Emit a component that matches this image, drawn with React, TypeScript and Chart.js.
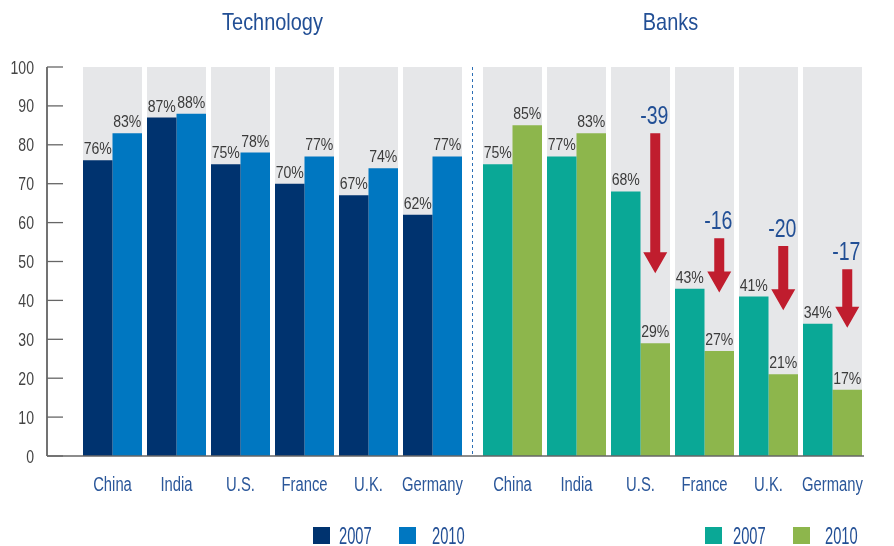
import React, { useEffect, useRef } from "react";
import { Chart, registerables } from "chart.js";

Chart.register(...registerables);

const countries = ["China", "India", "U.S.", "France", "U.K.", "Germany"];
const tech2007 = [76, 87, 75, 70, 67, 62];
const tech2010 = [83, 88, 78, 77, 74, 77];
const banks2007 = [75, 77, 68, 43, 41, 34];
const banks2010 = [85, 83, 29, 27, 21, 17];
const yTicks = [0, 10, 20, 30, 40, 50, 60, 70, 80, 90, 100];
// arrows on banks U.S., France, U.K., Germany (bank indices 2..5)
const arrowIdx = [2, 3, 4, 5];
const arrowTop = [83, 56, 54, 48];
const arrowTip = [47, 42, 37.5, 33];
const groupTitles = ["Technology", "Banks"];
const legendYears = ["2007", "2010"];

const GROUP_GAP = 0.25;
const FONT = '"Liberation Sans", Arial, sans-serif';

const C = {
  tech07: "#00336f",
  tech10: "#0077c1",
  bank07: "#0aa896",
  bank10: "#8db64c",
  bg: "#e6e7e9",
  red: "#c01d2e",
  blue: "#224f95",
  xlab: "#2b579a",
  grey: "#3b3b3b",
};

function drawText(ctx, text, x, y, size, scale, color, align) {
  ctx.save();
  ctx.font = `${size}px ${FONT}`;
  ctx.fillStyle = color;
  ctx.textBaseline = "alphabetic";
  ctx.textAlign = "left";
  const w = ctx.measureText(text).width * scale;
  const left = align === "center" ? x - w / 2 : align === "right" ? x - w : x;
  ctx.translate(left, y);
  ctx.scale(scale, 1);
  ctx.fillText(text, 0, 0);
  ctx.restore();
}

export default function App() {
  const ref = useRef(null);

  useEffect(() => {
    document.body.style.margin = "0";
    const n = countries.length;
    const pos = [];
    for (let i = 0; i < n; i++) pos.push(i);
    for (let i = 0; i < n; i++) pos.push(i + n + GROUP_GAP);
    const v07 = [...tech2007, ...banks2007];
    const v10 = [...tech2010, ...banks2010];
    const col07 = pos.map((_, i) => (i < n ? C.tech07 : C.bank07));
    const col10 = pos.map((_, i) => (i < n ? C.tech10 : C.bank10));
    const labels = [...countries, ...countries];

    const overlay = {
      id: "overlay",
      afterDatasetsDraw(chart) {
        const ctx = chart.ctx;
        const xs = chart.scales.x;
        const ys = chart.scales.y;
        const area = chart.chartArea;
        const y0 = ys.getPixelForValue(0);
        const y100 = ys.getPixelForValue(100);

        // y axis
        ctx.save();
        ctx.strokeStyle = "#444";
        ctx.lineWidth = 1.5;
        ctx.beginPath();
        ctx.moveTo(area.left, y100);
        ctx.lineTo(area.left, y0);
        ctx.stroke();
        ctx.strokeStyle = "#666";
        ctx.lineWidth = 1.3;
        yTicks.forEach((t) => {
          const y = ys.getPixelForValue(t);
          ctx.beginPath();
          ctx.moveTo(area.left, y);
          ctx.lineTo(area.left + 16, y);
          ctx.stroke();
          drawText(ctx, String(t), area.left - 13, y + 6.5, 18.5, 0.76, "#444", "right");
        });
        // baseline
        ctx.strokeStyle = "#666";
        ctx.lineWidth = 1.5;
        ctx.beginPath();
        ctx.moveTo(area.left, y0);
        ctx.lineTo(area.right, y0);
        ctx.stroke();
        // separator
        const sepX = xs.getPixelForValue((pos[n - 1] + pos[n]) / 2);
        ctx.strokeStyle = "#2d6fb5";
        ctx.lineWidth = 1;
        ctx.setLineDash([3, 3]);
        ctx.beginPath();
        ctx.moveTo(sepX, y100);
        ctx.lineTo(sepX, y0);
        ctx.stroke();
        ctx.setLineDash([]);
        ctx.restore();

        // x labels
        pos.forEach((p, i) => {
          drawText(ctx, labels[i], xs.getPixelForValue(p), y0 + 35, 19.5, 0.76, C.xlab, "center");
        });

        // group titles
        const t1 = (xs.getPixelForValue(pos[0]) + xs.getPixelForValue(pos[n - 1])) / 2;
        const t2 = (xs.getPixelForValue(pos[n]) + xs.getPixelForValue(pos[2 * n - 1])) / 2;
        drawText(ctx, groupTitles[0], t1, 30, 24, 0.83, C.blue, "center");
        drawText(ctx, groupTitles[1], t2 - 2, 30, 24, 0.83, C.blue, "center");

        // value labels
        [1, 2].forEach((di) => {
          const meta = chart.getDatasetMeta(di);
          const vals = di === 1 ? v07 : v10;
          meta.data.forEach((el, i) => {
            drawText(ctx, `${vals[i]}%`, el.x, el.y - 6, 16, 0.88, C.grey, "center");
          });
        });

        // arrows
        const meta10 = chart.getDatasetMeta(2);
        arrowIdx.forEach((bi, k) => {
          const el = meta10.data[n + bi];
          const x = el.x;
          const yt = ys.getPixelForValue(arrowTop[k]);
          const yp = ys.getPixelForValue(arrowTip[k]);
          const headH = 21;
          const headW = 24;
          const shaft = 10;
          ctx.save();
          ctx.fillStyle = C.red;
          ctx.beginPath();
          ctx.moveTo(x - shaft / 2, yt);
          ctx.lineTo(x + shaft / 2, yt);
          ctx.lineTo(x + shaft / 2, yp - headH);
          ctx.lineTo(x + headW / 2, yp - headH);
          ctx.lineTo(x, yp);
          ctx.lineTo(x - headW / 2, yp - headH);
          ctx.lineTo(x - shaft / 2, yp - headH);
          ctx.closePath();
          ctx.fill();
          ctx.restore();
          const diff = banks2007[bi] - banks2010[bi];
          drawText(ctx, `-${diff}`, x - 1, yt - 9, 25, 0.78, C.blue, "center");
        });

        // legends
        const legends = [
          { sq: [313, 399], tx: [339, 432], cols: [C.tech07, C.tech10] },
          { sq: [705, 793], tx: [733, 825], cols: [C.bank07, C.bank10] },
        ];
        legends.forEach((lg) => {
          legendYears.forEach((yr, j) => {
            ctx.fillStyle = lg.cols[j];
            ctx.fillRect(lg.sq[j], 527, 17, 17);
            drawText(ctx, yr, lg.tx[j], 544, 23, 0.64, C.blue, "left");
          });
        });
      },
    };

    const xMin = -65.5 / 64;
    const xMax = 751.5 / 64;

    const chart = new Chart(ref.current, {
      type: "bar",
      data: {
        datasets: [
          {
            label: "bg",
            data: pos.map((p) => ({ x: p, y: 100 })),
            backgroundColor: C.bg,
            grouped: false,
            order: 10,
            barPercentage: 1,
            categoryPercentage: 59 / 64,
            borderWidth: 0,
          },
          {
            label: "2007",
            data: pos.map((p, i) => ({ x: p, y: v07[i] })),
            backgroundColor: col07,
            order: 1,
            barPercentage: 1,
            categoryPercentage: 59 / 64,
            borderWidth: 0,
          },
          {
            label: "2010",
            data: pos.map((p, i) => ({ x: p, y: v10[i] })),
            backgroundColor: col10,
            order: 2,
            barPercentage: 1,
            categoryPercentage: 59 / 64,
            borderWidth: 0,
          },
        ],
      },
      options: {
        animation: false,
        responsive: true,
        maintainAspectRatio: false,
        layout: { padding: { left: 47, right: 30, top: 67, bottom: 90 } },
        plugins: { legend: { display: false }, tooltip: { enabled: false } },
        scales: {
          x: { type: "linear", min: xMin, max: xMax, offset: false, display: false },
          y: { min: 0, max: 100, display: false },
        },
      },
      plugins: [overlay],
    });
    return () => chart.destroy();
  }, []);

  return (
    <div style={{ width: 894, height: 546, position: "relative", background: "#fff" }}>
      <canvas ref={ref} />
    </div>
  );
}
